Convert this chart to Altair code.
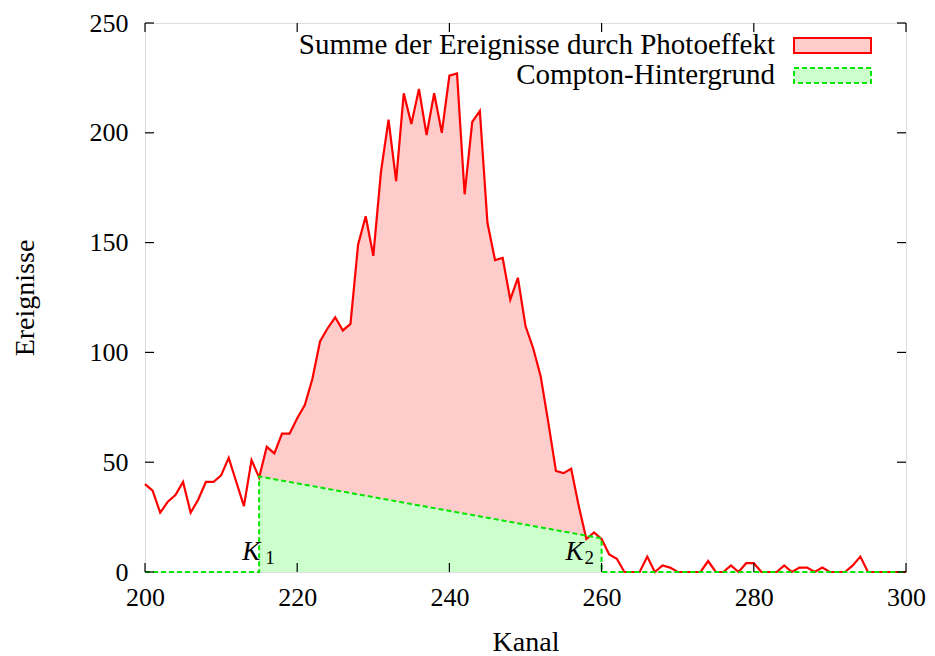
import altair as alt
import pandas as pd

# --- data ---
channels = list(range(200, 301))
counts = [40, 37, 27, 32, 35, 41, 27, 33, 41, 41,
          44, 52, 41, 30, 51, 43, 57, 54, 63, 63,
          70, 76, 88, 105, 111, 116, 110, 113, 149, 162,
          144, 182, 206, 178, 218, 204, 220, 199, 218, 200,
          226, 227, 172, 205, 210, 159, 142, 143, 124, 134,
          112, 102, 89, 68, 46, 45, 47, 30, 15, 18,
          15, 8, 6, 0, 0, 0, 7, 0, 3, 2,
          0, 0, 0, 0, 5, 0, 0, 3, 0, 4,
          4, 0, 0, 0, 3, 0, 2, 2, 0, 2,
          0, 0, 0, 3, 7, 0, 0, 0, 0, 0,
          0]
k_channels = [215, 260]          # K1, K2
k_background = [43.5, 15.3]      # Compton background at K1, K2
photo_last = 258                 # last channel of the filled photo peak
x_ticks = [200, 220, 240, 260, 280, 300]
y_ticks = [0, 50, 100, 150, 200, 250]
legend_labels = ["Summe der Ereignisse durch Photoeffekt", "Compton-Hintergrund"]
k_names = ["K", "K"]
k_subs = ["1", "2"]

FONT = "Liberation Serif"
W, H = 761, 549
RED = "#ff0000"
PINK = "#ffcccc"
GREEN = "#00e600"
LGREEN = "#ccffcc"
TICK = 9

df = pd.DataFrame({"Kanal": channels, "Ereignisse": counts})
bg = pd.DataFrame({"Kanal": k_channels, "Ereignisse": k_background})
outline = pd.DataFrame({
    "Kanal": [channels[0], k_channels[0], k_channels[0], k_channels[1], k_channels[1], channels[-1]],
    "Ereignisse": [0, 0, k_background[0], k_background[1], 0, 0],
    "i": list(range(6)),
})

xs = alt.Scale(domain=[200, 300], nice=False, zero=False)
ys = alt.Scale(domain=[0, 250], nice=False)

x_axis = alt.Axis(values=x_ticks, ticks=False, domain=False, grid=False,
                  labelFont=FONT, labelFontSize=26, labelColor="black",
                  labelPadding=12, labelFlush=False,
                  title="Kanal", titleFont=FONT, titleFontSize=28,
                  titleFontWeight="normal", titleColor="black",
                  titleY=78, titleBaseline="alphabetic")
y_axis = alt.Axis(values=y_ticks, ticks=False, domain=False, grid=False,
                  labelFont=FONT, labelFontSize=26, labelColor="black",
                  labelPadding=17, labelFlush=False,
                  title="Ereignisse", titleFont=FONT, titleFontSize=28,
                  titleFontWeight="normal", titleColor="black",
                  titleX=-112, titleY=H / 2, titleAngle=-90,
                  titleBaseline="alphabetic", titleAlign="center")

base = alt.Chart(df)

pink = base.transform_filter(
    (alt.datum.Kanal >= k_channels[0]) & (alt.datum.Kanal <= photo_last)
).mark_area(color=PINK, opacity=1, interpolate="linear").encode(
    x=alt.X("Kanal:Q", scale=xs, axis=x_axis),
    y=alt.Y("Ereignisse:Q", scale=ys, axis=y_axis),
    y2=alt.datum(0),
)

green = alt.Chart(bg).mark_area(color=LGREEN, opacity=1).encode(
    x=alt.X("Kanal:Q", scale=xs),
    y=alt.Y("Ereignisse:Q", scale=ys),
    y2=alt.datum(0),
)

red = base.mark_line(color=RED, strokeWidth=2.2, strokeJoin="miter").encode(
    x=alt.X("Kanal:Q", scale=xs),
    y=alt.Y("Ereignisse:Q", scale=ys),
)

green_line = alt.Chart(outline).mark_line(color=GREEN, strokeWidth=2, strokeDash=[5, 3]).encode(
    x=alt.X("Kanal:Q", scale=xs),
    y=alt.Y("Ereignisse:Q", scale=ys),
    order="i:Q",
)

xt = pd.DataFrame({"v": x_ticks})
yt = pd.DataFrame({"v": y_ticks})
tick_style = dict(color="black", strokeWidth=1.2)
ticks_bottom = alt.Chart(xt).mark_rule(**tick_style).encode(
    x=alt.X("v:Q", scale=xs), y=alt.value(H), y2=alt.value(H - TICK))
ticks_top = alt.Chart(xt).mark_rule(**tick_style).encode(
    x=alt.X("v:Q", scale=xs), y=alt.value(0), y2=alt.value(TICK))
ticks_left = alt.Chart(yt).mark_rule(**tick_style).encode(
    y=alt.Y("v:Q", scale=ys), x=alt.value(0), x2=alt.value(TICK))
ticks_right = alt.Chart(yt).mark_rule(**tick_style).encode(
    y=alt.Y("v:Q", scale=ys), x=alt.value(W - TICK), x2=alt.value(W))

# legend (manual, gnuplot style: label left of swatch)
leg = pd.DataFrame({"label": legend_labels})
leg_text1 = alt.Chart(leg).transform_filter(alt.datum.label == legend_labels[0]).mark_text(
    font=FONT, fontSize=29, align="right", baseline="middle", color="black").encode(
    text="label:N", x=alt.value(630), y=alt.value(22))
leg_text2 = alt.Chart(leg).transform_filter(alt.datum.label == legend_labels[1]).mark_text(
    font=FONT, fontSize=29, align="right", baseline="middle", color="black").encode(
    text="label:N", x=alt.value(630), y=alt.value(52))
leg_box1 = alt.Chart(leg).transform_filter(alt.datum.label == legend_labels[0]).mark_rect(
    fill=PINK, stroke=RED, strokeWidth=2).encode(
    x=alt.value(649), x2=alt.value(726), y=alt.value(15), y2=alt.value(30))
leg_box2 = alt.Chart(leg).transform_filter(alt.datum.label == legend_labels[1]).mark_rect(
    fill=LGREEN, stroke=GREEN, strokeWidth=2, strokeDash=[5, 3]).encode(
    x=alt.value(649), x2=alt.value(726), y=alt.value(45), y2=alt.value(60))

# K1 / K2 annotations
kdf = pd.DataFrame({"Kanal": k_channels, "name": k_names, "sub": k_subs})
k1 = kdf[kdf.Kanal == k_channels[0]]
k2 = kdf[kdf.Kanal == k_channels[1]]

def k_label(d, dx_k, dx_s):
    kk = alt.Chart(d).mark_text(font=FONT, fontSize=27, fontStyle="italic", align="right",
                                baseline="alphabetic", dx=dx_k, dy=-12, color="black").encode(
        x=alt.X("Kanal:Q", scale=xs), y=alt.datum(0), text="name:N")
    ss = alt.Chart(d).mark_text(font=FONT, fontSize=19, align="left",
                                baseline="alphabetic", dx=dx_s, dy=-8, color="black").encode(
        x=alt.X("Kanal:Q", scale=xs), y=alt.datum(0), text="sub:N")
    return kk + ss

chart = alt.layer(
    pink, green, red, green_line,
    ticks_bottom, ticks_top, ticks_left, ticks_right,
    leg_text1, leg_text2, leg_box1, leg_box2,
    k_label(k1, 1, 6), k_label(k2, -18, -17),
).properties(
    width=W, height=H,
    autosize=alt.AutoSizeParams(type="none"),
    padding={"left": 145, "top": 23, "right": 29, "bottom": 84},
).configure_view(
    stroke="black", strokeWidth=1.5, fill="white"
).configure(background="white")

chart.save("out.html", embed_options={"renderer": "svg", "actions": False})
